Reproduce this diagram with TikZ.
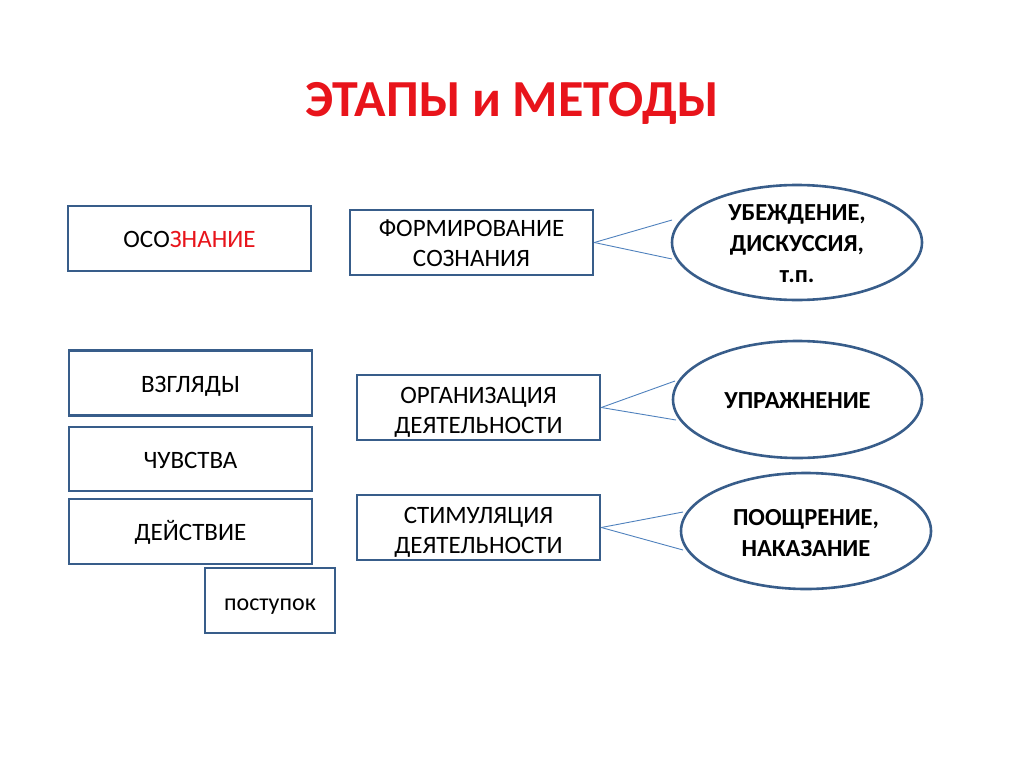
\documentclass[tikz,border=0pt]{standalone}
\usepackage{fontspec}
\setmainfont{Carlito}
\usetikzlibrary{shapes.geometric}
\definecolor{edge}{HTML}{385D8A}
\definecolor{conn}{HTML}{4F81BD}
\definecolor{titlered}{HTML}{E8141B}
\newcommand{\lowtext}[2][3pt]{\raisebox{-#1}[\height][\depth]{\begin{tabular}{@{}c@{}}#2\end{tabular}}}
\begin{document}
\begin{tikzpicture}[x=1pt,y=-1pt,
  box/.style={draw=edge,line width=2.6pt,fill=white,inner sep=0pt,align=center,font=\fontsize{25}{30}\selectfont},
  oval/.style={ellipse,draw=edge,line width=2.6pt,fill=white,inner sep=-14pt,align=center,font=\fontsize{24.5}{31}\selectfont\bfseries},
  link/.style={draw=conn,line width=0.9pt}]
\useasboundingbox (0,0) rectangle (1024,768);
\node[text=titlered,font=\fontsize{52}{56}\selectfont\bfseries] (title) at (512,103) {ЭТАПЫ и МЕТОДЫ};
\node[box,minimum width=243pt,minimum height=65pt] (osoz) at (189.5,238.5) {\lowtext{ОСО\textcolor{titlered}{ЗНАНИЕ}}};
\node[box,minimum width=243pt,minimum height=65pt] (vzg) at (190.5,383) {\lowtext{ВЗГЛЯДЫ}};
\node[box,minimum width=243pt,minimum height=64pt] (chuv) at (190.5,459) {\lowtext{ЧУВСТВА}};
\node[box,minimum width=243pt,minimum height=65pt] (deis) at (190.5,531.5) {\lowtext{ДЕЙСТВИЕ}};
\node[box,minimum width=130pt,minimum height=65pt,font=\fontsize{24}{28}\selectfont] (post) at (270,600.5) {\lowtext[4pt]{поступок}};
\node[box,minimum width=243pt,minimum height=65pt] (form) at (471.5,242.5) {\lowtext{ФОРМИРОВАНИЕ\\СОЗНАНИЯ}};
\node[box,minimum width=243pt,minimum height=65pt] (org) at (478.5,407.5) {\lowtext[4.5pt]{ОРГАНИЗАЦИЯ\\ДЕЯТЕЛЬНОСТИ}};
\node[box,minimum width=243pt,minimum height=65pt] (stim) at (478.5,527.5) {\lowtext[4.5pt]{СТИМУЛЯЦИЯ\\ДЕЯТЕЛЬНОСТИ}};
\node[oval,minimum width=250pt,minimum height=115pt] (e1) at (797,242.5) {\lowtext{УБЕЖДЕНИЕ,\\ДИСКУССИЯ,\\т.п.}};
\node[oval,minimum width=249pt,minimum height=117pt] (e2) at (797.5,399.5) {\lowtext{УПРАЖНЕНИЕ}};
\node[oval,minimum width=250pt,minimum height=116pt] (e3) at (806,531) {\lowtext[4pt]{ПООЩРЕНИЕ,\\НАКАЗАНИЕ}};
\coordinate (a1) at (672,220);
\coordinate (b1) at (672,259);
\coordinate (a2) at (675,381);
\coordinate (b2) at (676,420);
\coordinate (a3) at (683,512);
\coordinate (b3) at (683,550);
\draw[link] (form.east) -- (a1);
\draw[link] (form.east) -- (b1);
\draw[link] (org.east) -- (a2);
\draw[link] (org.east) -- (b2);
\draw[link] (stim.east) -- (a3);
\draw[link] (stim.east) -- (b3);
\end{tikzpicture}
\end{document}
